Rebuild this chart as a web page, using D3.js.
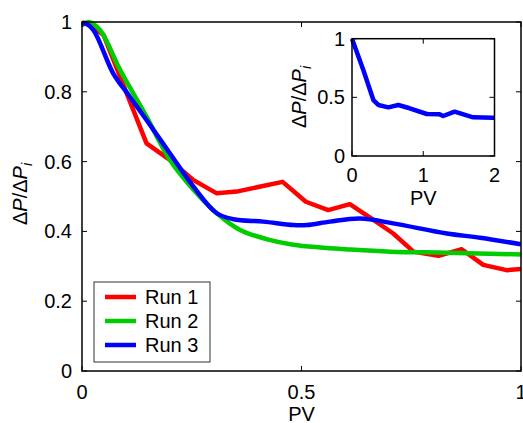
<!DOCTYPE html>
<html>
<head>
<meta charset="utf-8">
<script src="https://cdn.jsdelivr.net/npm/d3@7"></script>
<style>
  body { margin: 0; background: #fff; }
  svg { display: block; font-family: "Liberation Sans", Arial, sans-serif; }
</style>
</head>
<body>
<div id="chart"></div>
<script>
// Run data: [PV, dP/dPi]
const run1 = [[0, 1], [0.02, 0.99], [0.049, 0.963], [0.147, 0.652], [0.2, 0.605], [0.254, 0.547], [0.307, 0.509],
  [0.352, 0.514], [0.457, 0.542], [0.51, 0.485], [0.561, 0.461], [0.61, 0.478], [0.664, 0.433], [0.709, 0.394],
  [0.755, 0.342], [0.812, 0.33], [0.865, 0.349], [0.914, 0.304], [0.967, 0.289], [1.0, 0.292]];
const run2 = [[0, 0.99], [0.015, 1.0], [0.041, 0.977], [0.087, 0.862], [0.147, 0.729], [0.2, 0.605], [0.254, 0.519],
  [0.307, 0.452], [0.36, 0.404], [0.42, 0.378], [0.481, 0.362], [0.542, 0.354], [0.6, 0.349], [0.702, 0.342],
  [0.831, 0.339], [1.0, 0.334]];
const run3 = [[0, 0.995], [0.007, 0.996], [0.026, 0.977], [0.071, 0.853], [0.109, 0.786], [0.147, 0.719], [0.2, 0.624],
  [0.254, 0.528], [0.307, 0.452], [0.345, 0.435], [0.413, 0.428], [0.481, 0.418], [0.512, 0.418], [0.565, 0.428],
  [0.633, 0.437], [0.709, 0.423], [0.831, 0.394], [0.907, 0.382], [1.0, 0.363]];
const insetRun = [[0, 1], [0.159, 0.733], [0.3, 0.477], [0.37, 0.435], [0.51, 0.415], [0.65, 0.435], [0.81, 0.407],
  [1.05, 0.358], [1.23, 0.355], [1.28, 0.341], [1.44, 0.378], [1.7, 0.33], [1.98, 0.327], [2.0, 0.327]];

const seriesNames = ["Run 1", "Run 2", "Run 3"];
const seriesColors = ["#ff0000", "#00cc00", "#0000ff"];
const xTicks = [0, 0.5, 1];
const yTicks = [0, 0.2, 0.4, 0.6, 0.8, 1];
const insetXTicks = [0, 1, 2];
const insetYTicks = [0, 0.5, 1];

const width = 523, height = 423;
const margin = { top: 22, right: 2, bottom: 52, left: 82 };
const fs = 20;

const svg = d3.select("#chart").append("svg")
    .attr("width", width)
    .attr("height", height);

const x = d3.scaleLinear().domain([0, 1]).range([margin.left, width - margin.right]);
const y = d3.scaleLinear().domain([0, 1]).range([height - margin.bottom, margin.top]);

const smoothLine = d3.line().curve(d3.curveCatmullRom).x(d => x(d[0])).y(d => y(d[1]));
const plainLine = d3.line().x(d => x(d[0])).y(d => y(d[1]));

// plot lines (clipped to the axes box)
svg.append("clipPath").attr("id", "clipMain")
    .append("rect").attr("x", x(0)).attr("y", y(1) - 3).attr("width", x(1) - x(0)).attr("height", y(0) - y(1) + 3);

const runs = [run1, run2, run3];
svg.append("g").attr("clip-path", "url(#clipMain)")
    .selectAll("path").data(runs).enter().append("path")
    .attr("d", (d, i) => i === 0 ? plainLine(d) : smoothLine(d))
    .attr("fill", "none")
    .attr("stroke", (d, i) => seriesColors[i])
    .attr("stroke-width", 4.5)
    .attr("stroke-linejoin", "round");

// axes box with inward ticks
function drawAxes(g, xs, ys, xt, yt, labelDy, labelDx) {
    const [x0, x1] = xs.range();
    const [y0, y1] = ys.range();
    g.append("rect")
        .attr("x", x0).attr("y", y1).attr("width", x1 - x0).attr("height", y0 - y1)
        .attr("fill", "none").attr("stroke", "#000").attr("stroke-width", 1.5);
    const tl = 5;
    xt.forEach(t => {
        g.append("line").attr("x1", xs(t)).attr("x2", xs(t)).attr("y1", y0).attr("y2", y0 - tl).attr("stroke", "#000");
        g.append("line").attr("x1", xs(t)).attr("x2", xs(t)).attr("y1", y1).attr("y2", y1 + tl).attr("stroke", "#000");
        g.append("text").attr("x", xs(t)).attr("y", y0 + labelDy)
            .attr("text-anchor", "middle").style("font-size", fs + "px").text(String(t));
    });
    yt.forEach(t => {
        g.append("line").attr("x1", x0).attr("x2", x0 + tl).attr("y1", ys(t)).attr("y2", ys(t)).attr("stroke", "#000");
        g.append("line").attr("x1", x1).attr("x2", x1 - tl).attr("y1", ys(t)).attr("y2", ys(t)).attr("stroke", "#000");
        g.append("text").attr("x", x0 - labelDx).attr("y", ys(t)).attr("dy", "0.35em")
            .attr("text-anchor", "end").style("font-size", fs + "px").text(String(t));
    });
}

function yLabel(g, cx, cy) {
    const t = g.append("text")
        .attr("transform", `translate(${cx},${cy}) rotate(-90)`)
        .attr("text-anchor", "middle")
        .style("font-size", fs + "px");
    t.append("tspan").text("\u0394");
    t.append("tspan").style("font-style", "italic").text("P");
    t.append("tspan").text("/\u0394");
    t.append("tspan").style("font-style", "italic").text("P");
    t.append("tspan").style("font-style", "italic").style("font-size", (fs * 0.7) + "px")
        .attr("dy", "0.35em").text("i");
}

drawAxes(svg.append("g"), x, y, xTicks, yTicks, 28, 10);

svg.append("text").attr("x", x(0.5)).attr("y", 421).attr("text-anchor", "middle")
    .style("font-size", fs + "px").text("PV");
yLabel(svg, 27, 194);

// legend
const legend = svg.append("g");
legend.append("rect").attr("x", 94).attr("y", 282).attr("width", 116).attr("height", 80)
    .attr("fill", "#fff").attr("stroke", "#333").attr("stroke-width", 1);
seriesNames.forEach((name, i) => {
    const ly = 297 + i * 24;
    legend.append("line").attr("x1", 105).attr("x2", 136).attr("y1", ly).attr("y2", ly)
        .attr("stroke", seriesColors[i]).attr("stroke-width", 4.5);
    legend.append("text").attr("x", 145).attr("y", ly).attr("dy", "0.35em")
        .style("font-size", fs + "px").text(name);
});

// inset
const ix = d3.scaleLinear().domain([0, 2]).range([352, 494.5]);
const iy = d3.scaleLinear().domain([0, 1]).range([156, 38.7]);
const inset = svg.append("g");
inset.append("rect").attr("x", 352).attr("y", 38.7).attr("width", 142.5).attr("height", 117.3).attr("fill", "#fff");
const iline = d3.line().x(d => ix(d[0])).y(d => iy(d[1]));
inset.append("path").datum(insetRun)
    .attr("d", iline).attr("fill", "none")
    .attr("stroke", seriesColors[2]).attr("stroke-width", 4.5).attr("stroke-linejoin", "round");
drawAxes(inset, ix, iy, insetXTicks, insetYTicks, 26, 7);
inset.append("text").attr("x", ix(1)).attr("y", 205).attr("text-anchor", "middle")
    .style("font-size", fs + "px").text("PV");
yLabel(inset, 306, 97);
</script>
</body>
</html>
